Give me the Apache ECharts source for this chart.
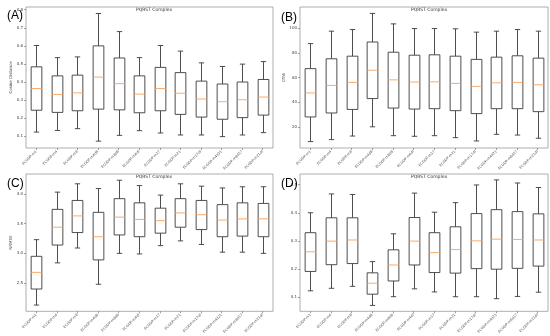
<!DOCTYPE html>
<html><head><meta charset="utf-8">
<script src="https://cdn.jsdelivr.net/npm/echarts@6/dist/echarts.min.js"></script>
<style>html,body{margin:0;padding:0;background:#fff}#c{width:550px;height:336px}</style>
</head><body><div id="c"></div>
<script>
// Category labels (x axis)
const categories = ['ECGDP-m1','ECGDP-m4','ECGDP-m8','ECGDP-m4dB','ECGDP-m8dB','ECGDP-m4df','ECGDP-m17','ECGDP-m21','ECGDP-m17df','ECGDP-m4d21','ECGDP-m8d17','ECGDP-m21df'];

// Each entry: [lower whisker, Q1, median, Q3, upper whisker]
const panelA = [
  [0.123,0.244,0.364,0.484,0.602],
  [0.132,0.232,0.331,0.434,0.535],
  [0.142,0.241,0.340,0.438,0.539],
  [0.073,0.250,0.427,0.600,0.779],
  [0.105,0.246,0.391,0.533,0.679],
  [0.131,0.230,0.333,0.434,0.535],
  [0.118,0.241,0.364,0.481,0.602],
  [0.107,0.221,0.338,0.452,0.571],
  [0.107,0.206,0.306,0.405,0.506],
  [0.098,0.194,0.291,0.389,0.486],
  [0.107,0.203,0.302,0.400,0.499],
  [0.120,0.217,0.317,0.414,0.513]
];
const panelB = [
  [8.0,28.0,47.5,67.2,87.5],
  [9.6,31.2,53.6,75.2,97.6],
  [12.5,34.1,56.0,77.3,98.9],
  [20.0,42.9,65.9,88.8,112.0],
  [12.8,35.2,58.1,80.5,103.5],
  [12.3,34.4,56.3,78.1,99.7],
  [12.8,34.7,56.5,78.4,99.7],
  [11.2,33.1,55.2,77.3,99.5],
  [8.5,30.7,52.8,74.7,96.8],
  [13.9,34.7,55.7,76.5,97.6],
  [13.3,34.7,56.0,77.6,98.9],
  [10.7,32.3,54.1,75.7,97.6]
];
const panelC = [
  [2.13,2.40,2.68,2.95,3.23],
  [2.84,3.14,3.44,3.74,4.03],
  [3.09,3.35,3.63,3.89,4.17],
  [2.48,2.89,3.28,3.69,4.09],
  [3.00,3.31,3.61,3.92,4.23],
  [2.99,3.28,3.57,3.85,4.14],
  [3.13,3.34,3.55,3.76,3.98],
  [3.21,3.44,3.68,3.92,4.17],
  [3.15,3.40,3.65,3.89,4.13],
  [3.02,3.28,3.56,3.82,4.10],
  [3.02,3.29,3.58,3.85,4.12],
  [3.00,3.28,3.58,3.84,4.12]
];
const panelD = [
  [0.122,0.191,0.261,0.329,0.400],
  [0.131,0.215,0.299,0.382,0.467],
  [0.138,0.219,0.303,0.382,0.465],
  [0.070,0.110,0.149,0.186,0.226],
  [0.101,0.157,0.214,0.268,0.325],
  [0.129,0.214,0.299,0.383,0.470],
  [0.118,0.187,0.258,0.329,0.402],
  [0.101,0.185,0.269,0.350,0.436],
  [0.101,0.201,0.300,0.397,0.499],
  [0.094,0.199,0.306,0.411,0.517],
  [0.102,0.202,0.305,0.404,0.506],
  [0.117,0.210,0.303,0.396,0.490]
];
// Y tick labels
const ticksA = [0.1,0.2,0.3,0.4,0.5,0.6,0.7,0.8];
const ticksB = [20,40,60,80,100];
const ticksC = [2.5,3.0,3.5,4.0];
const ticksD = [0.1,0.2,0.3,0.4,0.5];

const chart = echarts.init(document.getElementById('c'), null, {renderer:'canvas'});

const grids = [
  {left:26, top:7, width:247, height:141},
  {left:300, top:7, width:248, height:141},
  {left:26, top:174, width:247, height:141},
  {left:300, top:174, width:248, height:141}
];
const ranges = [[0.035,0.815],[2.8,117.2],[2.025,4.335],[0.049,0.538]];
const tickSets = [ticksA,ticksB,ticksC,ticksD];
const decimals = [1,0,1,1];
const yNames = ['Cosine Distance','DTW','NRMSE',''];
const datasets = [panelA,panelB,panelC,panelD];

function renderBox(params, api){
  const i = api.value(0);
  const lo = api.coord([i, api.value(1)]);
  const q1 = api.coord([i, api.value(2)]);
  const md = api.coord([i, api.value(3)]);
  const q3 = api.coord([i, api.value(4)]);
  const hi = api.coord([i, api.value(5)]);
  const band = api.size([1,0])[0];
  const bw = band*0.52, cw = bw*0.5;
  const x = Math.round(lo[0]) + 0.5;
  const st = {stroke:'#3a3a3a', lineWidth:0.9, fill:null};
  return {type:'group', children:[
    {type:'line', shape:{x1:x,y1:hi[1],x2:x,y2:q3[1]}, style:st},
    {type:'line', shape:{x1:x,y1:q1[1],x2:x,y2:lo[1]}, style:st},
    {type:'line', shape:{x1:x-cw/2,y1:hi[1],x2:x+cw/2,y2:hi[1]}, style:st},
    {type:'line', shape:{x1:x-cw/2,y1:lo[1],x2:x+cw/2,y2:lo[1]}, style:st},
    {type:'rect', shape:{x:x-bw/2,y:q3[1],width:bw,height:q1[1]-q3[1]}, style:{stroke:'#3a3a3a',lineWidth:0.9,fill:'#fff'}},
    {type:'line', shape:{x1:x-bw/2,y1:md[1],x2:x+bw/2,y2:md[1]}, style:{stroke:'#f7a25e',lineWidth:0.9}}
  ]};
}

const option = {
  animation:false,
  backgroundColor:'#fff',
  title:[
    {text:'PQRST Complex', left:149, top:2, textAlign:'center', textStyle:{fontSize:4.5,fontWeight:'normal',color:'#333',fontFamily:'DejaVu Sans'}},
    {text:'PQRST Complex', left:424, top:2, textAlign:'center', textStyle:{fontSize:4.5,fontWeight:'normal',color:'#333',fontFamily:'DejaVu Sans'}},
    {text:'PQRST Complex', left:149, top:169, textAlign:'center', textStyle:{fontSize:4.5,fontWeight:'normal',color:'#333',fontFamily:'DejaVu Sans'}},
    {text:'PQRST Complex', left:424, top:169, textAlign:'center', textStyle:{fontSize:4.5,fontWeight:'normal',color:'#333',fontFamily:'DejaVu Sans'}},
    {text:'(A)', left:2, top:5, textStyle:{fontSize:12,fontWeight:'normal',color:'#000',fontFamily:'Liberation Sans'}},
    {text:'(B)', left:276, top:7, textStyle:{fontSize:12,fontWeight:'normal',color:'#000',fontFamily:'Liberation Sans'}},
    {text:'(C)', left:2, top:173, textStyle:{fontSize:12,fontWeight:'normal',color:'#000',fontFamily:'Liberation Sans'}},
    {text:'(D)', left:276, top:173, textStyle:{fontSize:12,fontWeight:'normal',color:'#000',fontFamily:'Liberation Sans'}}
  ],
  grid: grids.map(g => Object.assign({show:true, borderColor:'#9a9a9a', borderWidth:0.8, backgroundColor:'#fff'}, g)),
  xAxis: grids.map((g,k) => ({
    type:'category', gridIndex:k, data:categories,
    axisLine:{show:false},
    axisTick:{show:true, alignWithLabel:true, length:2, lineStyle:{color:'#666',width:0.6}},
    axisLabel:{interval:0, rotate:45, fontSize:3.5, margin:3, color:'#555', fontFamily:'DejaVu Sans'}
  })),
  yAxis: grids.map((g,k) => ({
    type:'value', gridIndex:k, min:ranges[k][0], max:ranges[k][1],
    name:yNames[k], nameLocation:'middle', nameGap:12, nameRotate:90,
    nameTextStyle:{fontSize:4, color:'#444', fontFamily:'DejaVu Sans'},
    splitLine:{show:false},
    axisLine:{show:false},
    axisTick:{show:true, length:2, customValues:tickSets[k], lineStyle:{color:'#666',width:0.6}},
    axisLabel:{fontSize:4, margin:3, color:'#444', customValues:tickSets[k], fontFamily:'DejaVu Sans',
      formatter: v => v.toFixed(decimals[k])}
  })),
  series: datasets.map((d,k) => ({
    type:'custom', xAxisIndex:k, yAxisIndex:k,
    renderItem: renderBox,
    encode:{x:0, y:[1,2,3,4,5]},
    data: d.map((r,i) => [i].concat(r))
  }))
};
chart.setOption(option);
</script>
</body></html>
